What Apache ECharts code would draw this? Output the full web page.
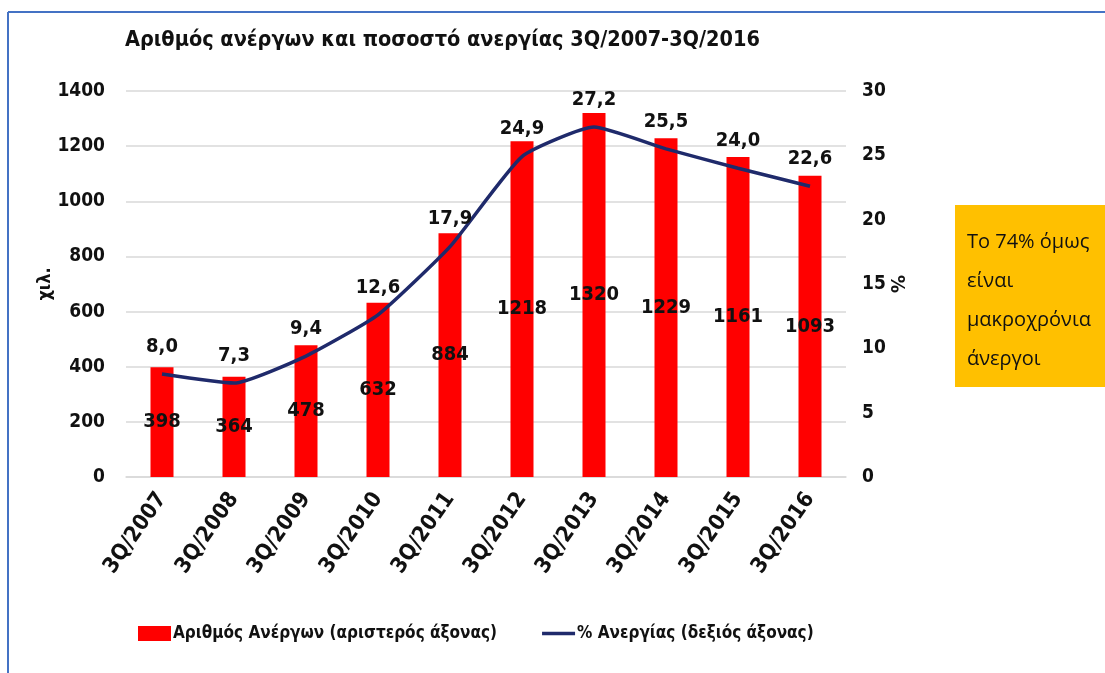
<!DOCTYPE html>
<html><head><meta charset="utf-8">
<script src="https://cdn.jsdelivr.net/npm/echarts@6/dist/echarts.min.js"></script>
<style>html,body{margin:0;padding:0;background:#fff}#c{width:1105px;height:673px}</style>
</head><body><div id="c"></div>
<script>
const categories = ['3Q/2007','3Q/2008','3Q/2009','3Q/2010','3Q/2011','3Q/2012','3Q/2013','3Q/2014','3Q/2015','3Q/2016'];
const unemployed = [398, 364, 478, 632, 884, 1218, 1320, 1229, 1161, 1093];
const rate = [8.0, 7.3, 9.4, 12.6, 17.9, 24.9, 27.2, 25.5, 24.0, 22.6];
const leftTicks = [0, 1400, 200];
const rightTicks = [0, 30, 5];
const titleText = 'Αριθμός ανέργων και ποσοστό ανεργίας 3Q/2007-3Q/2016';
const noteLines = ['Το 74% όμως', 'είναι', 'μακροχρόνια', 'άνεργοι'];
const seriesNames = ['Αριθμός Ανέργων (αριστερός άξονας)', '% Ανεργίας (δεξιός άξονας)'];

const NARROW = "'Liberation Sans Narrow','Arial Narrow','DejaVu Sans Condensed',sans-serif";
const LINE = '#1f2a6b';
const chart = echarts.init(document.getElementById('c'));
chart.setOption({
  animation: false,
  backgroundColor: '#fff',
  title: {
    text: titleText, left: 120, top: 24,
    textStyle: {fontFamily: NARROW, fontWeight: 'bold', fontSize: 21.5, color: '#111'}
  },
  legend: {
    bottom: 26, left: 133, itemGap: 45, itemWidth: 33, itemHeight: 15,
    textStyle: {fontFamily: NARROW, fontWeight: 'bold', fontSize: 17, color: '#111', padding: [0,0,0,-3]},
    data: [
      {name: seriesNames[0], icon: 'rect', itemStyle: {color: '#ff0000'}},
      {name: seriesNames[1], icon: 'path://M0,6 L30,6 L30,9 L0,9 Z', itemStyle: {color: LINE, opacity: 1}}
    ]
  },
  grid: {left: 126, right: 1105 - 846, top: 91, bottom: 673 - 477},
  xAxis: {
    type: 'category', data: categories,
    axisLine: {show: true, lineStyle: {color: '#d9d9d9', width: 1.5}},
    axisTick: {show: false},
    axisLabel: {rotate: 55, interval: 0, margin: 18, fontFamily: NARROW, fontWeight: 'bold', fontSize: 22, color: '#111'}
  },
  yAxis: [
    {
      type: 'value', min: leftTicks[0], max: leftTicks[1], interval: leftTicks[2],
      name: 'χιλ.', nameLocation: 'middle', nameRotate: 90, nameGap: 72, nameMoveOverlap: false,
      nameTextStyle: {fontFamily: NARROW, fontWeight: 'bold', fontSize: 18, color: '#111'},
      axisLine: {show: false}, axisTick: {show: false},
      splitLine: {lineStyle: {color: '#d9d9d9', width: 1.5}},
      axisLabel: {margin: 21, fontFamily: NARROW, fontWeight: 'bold', fontSize: 19, color: '#111', formatter: v => String(v)}
    },
    {
      type: 'value', min: rightTicks[0], max: rightTicks[1], interval: rightTicks[2],
      name: '%', nameLocation: 'middle', nameRotate: -90, nameGap: 40, nameMoveOverlap: false,
      nameTextStyle: {fontFamily: NARROW, fontWeight: 'bold', fontSize: 20, color: '#111'},
      axisLine: {show: false}, axisTick: {show: false},
      splitLine: {show: false},
      axisLabel: {margin: 16, fontFamily: NARROW, fontWeight: 'bold', fontSize: 19, color: '#111'}
    }
  ],
  series: [
    {
      name: seriesNames[0], type: 'bar', data: unemployed, barWidth: 23, yAxisIndex: 0,
      itemStyle: {color: '#ff0000'},
      label: {show: true, position: 'inside', fontFamily: NARROW, fontWeight: 'bold', fontSize: 20, color: '#111'}
    },
    {
      name: seriesNames[1], type: 'line', data: rate, yAxisIndex: 1, smooth: 0.16,
      symbol: 'circle', symbolSize: 1, showSymbol: true,
      lineStyle: {color: LINE, width: 3.5},
      itemStyle: {color: LINE, opacity: 0},
      label: {show: true, position: 'top', distance: 17, fontFamily: NARROW, fontWeight: 'bold', fontSize: 20, color: '#111', opacity: 1,
        formatter: p => p.value.toFixed(1).replace('.', ',')}
    }
  ],
  graphic: [
    {type: 'line', shape: {x1: 8, y1: 12, x2: 8, y2: 673}, style: {stroke: '#4472c4', lineWidth: 2}},
    {type: 'line', shape: {x1: 8, y1: 12, x2: 1105, y2: 12}, style: {stroke: '#4472c4', lineWidth: 2}},
    {type: 'rect', shape: {x: 955, y: 205, width: 150, height: 182}, style: {fill: '#ffc000'}},
    {type: 'text', left: 967, top: 223, style: {text: noteLines.join('\n'), fontFamily: "'Open Sans','Noto Sans',sans-serif", fontSize: 20, lineHeight: 39, fill: '#111'}}
  ]
});
</script></body></html>
